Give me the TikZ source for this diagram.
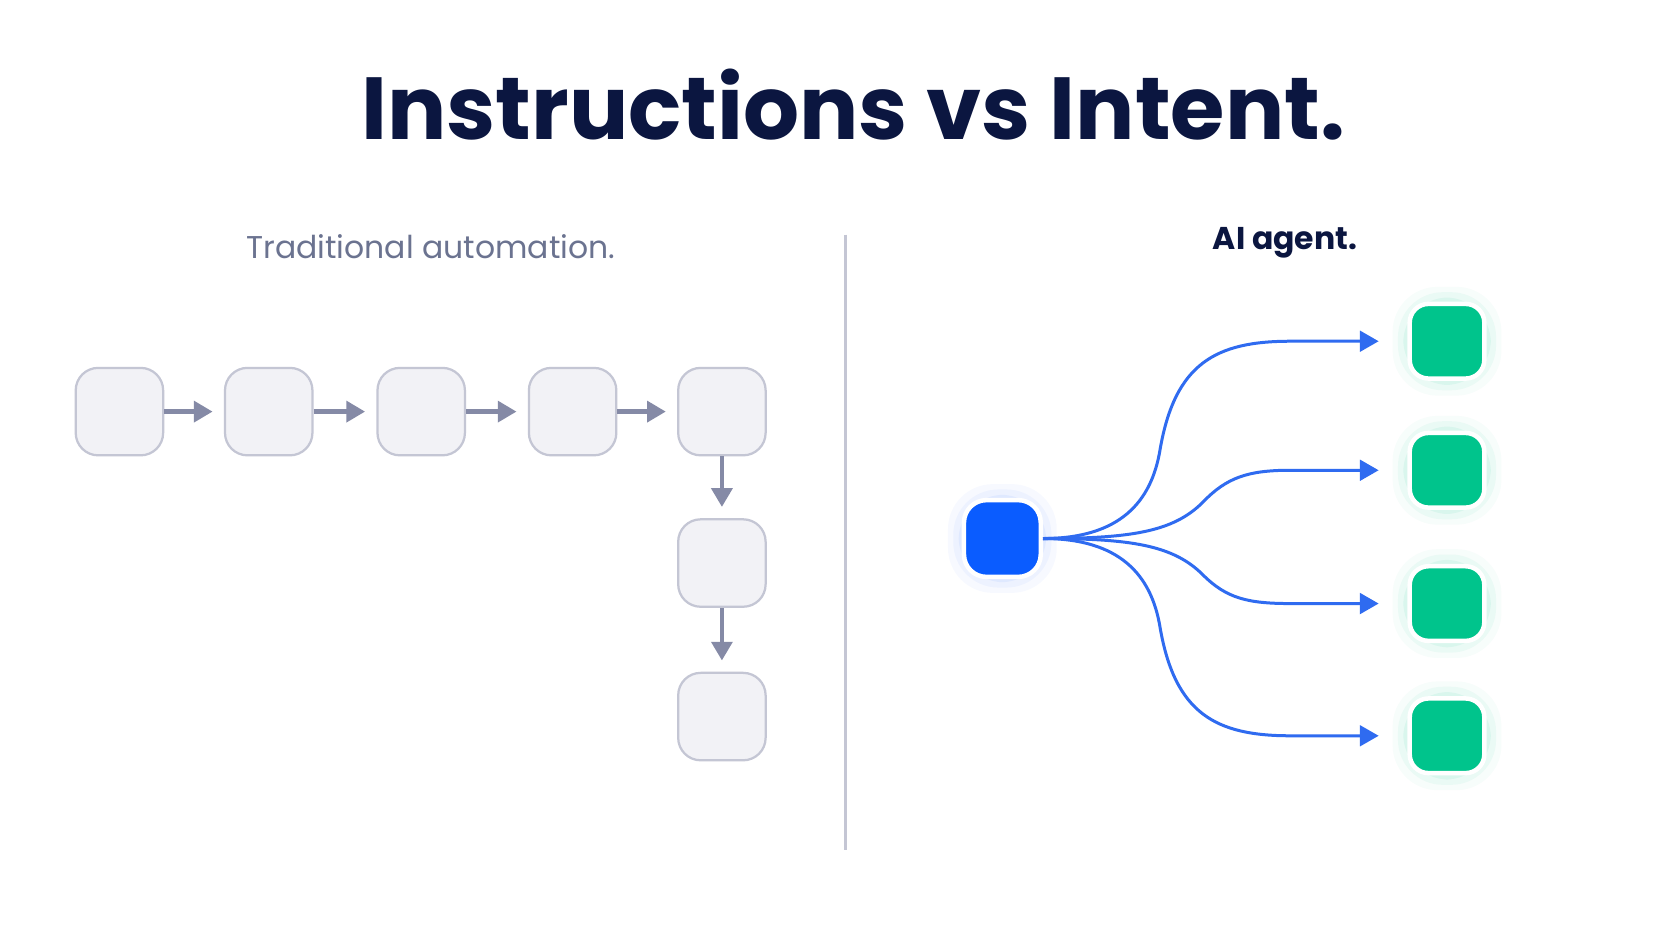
\documentclass[tikz,border=0pt]{standalone}
\usepackage{fontspec}
\setmainfont{Poppins}
\usetikzlibrary{arrows.meta}
\definecolor{navy}{HTML}{0B1640}
\definecolor{slate}{HTML}{6B7390}
\definecolor{boxgray}{HTML}{F2F2F6}
\definecolor{boxline}{HTML}{C4C6D4}
\definecolor{arrgray}{HTML}{858AA6}
\definecolor{agentblue}{HTML}{0A5CFF}
\definecolor{linkblue}{HTML}{2F6BF0}
\definecolor{mint}{HTML}{00C48C}
\tikzset{
  stepbox/.style={draw=boxline, fill=boxgray, rounded corners=6pt, minimum size=0.82cm, line width=0.6pt},
  flow/.style={draw=arrgray, line width=1.2pt, shorten >=3pt, -{Triangle[length=5pt,width=5.5pt]}},
  goal/.style={draw=white, fill=mint, rounded corners=5pt, minimum size=0.70cm, line width=1.2pt},
  link/.style={draw=linkblue, line width=0.8pt, -{Triangle[length=5pt,width=5.5pt]}}
}
\begin{document}
\begin{tikzpicture}
\fill[white] (0,0) rectangle (15.68,8.82);
\begin{scope}[yshift=-0.59cm]
\node[text=navy, font=\fontsize{23.5}{26}\selectfont\bfseries] (title) at (8.0,8.43) {Instructions vs Intent.};
\node[text=slate, font=\fontsize{8.4}{10}\selectfont] (left) at (4.04,7.10) {Traditional automation.};
\node[text=navy, font=\fontsize{8.4}{10}\selectfont\bfseries] (right) at (12.05,7.13) {AI agent.};
\draw[boxline, line width=0.8pt] (7.93,7.21) -- (7.93,1.44);
% fixed chain of steps
\node[stepbox] (s1) at (1.12,5.55) {};
\node[stepbox] (s2) at (2.52,5.55) {};
\node[stepbox] (s3) at (3.95,5.55) {};
\node[stepbox] (s4) at (5.37,5.55) {};
\node[stepbox] (s5) at (6.77,5.55) {};
\node[stepbox] (s6) at (6.77,4.13) {};
\node[stepbox] (s7) at (6.77,2.69) {};
\foreach \a/\b in {s1/s2,s2/s3,s3/s4,s4/s5,s5/s6,s6/s7}
  \draw[flow] (\a) -- (\b);
% agent
\foreach \r/\o in {0.16/0.03,0.11/0.04,0.06/0.06}
  \fill[agentblue, opacity=\o, rounded corners=12pt] (9.05-\r,4.01-\r) rectangle (9.75+\r,4.71+\r);
\node[draw=white, fill=agentblue, rounded corners=6pt, minimum size=0.72cm, line width=1.2pt] (agent) at (9.40,4.36) {};
\foreach \y/\n in {6.21/g1,5.00/g2,3.75/g3,2.51/g4}{
  \foreach \r/\o in {0.16/0.03,0.11/0.05,0.06/0.07}
    \fill[mint, opacity=\o, rounded corners=12pt] (13.22-\r,\y-0.35-\r) rectangle (13.92+\r,\y+0.35+\r);
  \node[goal] (\n) at (13.57,\y) {};
}
\draw[link] (agent.east) .. controls (10.5,4.36) and (10.8,4.7) .. (10.88,5.2) .. controls (11.02,6.0) and (11.4,6.21) .. (12.1,6.21) -- ([xshift=-0.27cm]g1.west);
\draw[link] (agent.east) .. controls (10.6,4.36) and (11.0,4.42) .. (11.28,4.7) .. controls (11.5,4.93) and (11.7,5.00) .. (12.1,5.00) -- ([xshift=-0.27cm]g2.west);
\draw[link] (agent.east) .. controls (10.6,4.36) and (11.0,4.30) .. (11.28,4.02) .. controls (11.5,3.80) and (11.7,3.75) .. (12.1,3.75) -- ([xshift=-0.27cm]g3.west);
\draw[link] (agent.east) .. controls (10.5,4.36) and (10.8,4.02) .. (10.88,3.52) .. controls (11.02,2.72) and (11.4,2.51) .. (12.1,2.51) -- ([xshift=-0.27cm]g4.west);
\end{scope}
\pgfresetboundingbox
\useasboundingbox (0,0) rectangle (15.68,8.82);
\end{tikzpicture}
\end{document}
